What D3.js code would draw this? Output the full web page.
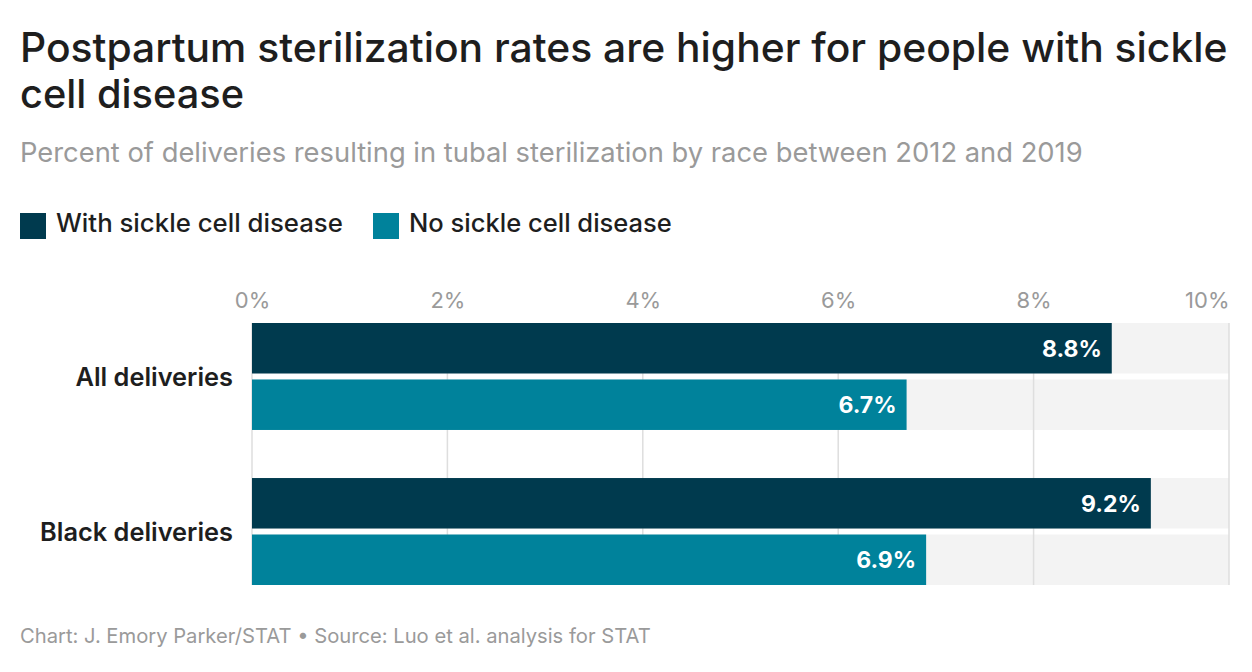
<!DOCTYPE html>
<html>
<head>
<meta charset="utf-8">
<script src="https://cdn.jsdelivr.net/npm/d3@7"></script>
<style>
  body { margin: 0; background: #fff; }
  svg { display: block; font-family: Inter, "Noto Sans", sans-serif; }
</style>
</head>
<body>
<div id="chart"></div>
<script>
var categories = ['All deliveries', 'Black deliveries'];
var seriesNames = ['With sickle cell disease', 'No sickle cell disease'];
var withSCD = [8.8, 9.2];
var noSCD = [6.7, 6.9];
var ticks = [0, 2, 4, 6, 8, 10];

var titleLines = ['Postpartum sterilization rates are higher for people with sickle', 'cell disease'];
var subtitle = 'Percent of deliveries resulting in tubal sterilization by race between 2012 and 2019';
var footer = 'Chart: J. Emory Parker/STAT \u2022 Source: Luo et al. analysis for STAT';

var width = 1252;
var height = 672;
var colors = ['#003a4e', '#00829b'];

var svg = d3.select('#chart').append('svg').attr('width', width).attr('height', height);

// shrink / grow a text node so it spans a given width
var fitText = function(sel, targetWidth){
	var w = sel.node().getComputedTextLength();
	var fs = parseFloat(sel.attr('font-size'));
	sel.attr('font-size', fs * targetWidth / w);
};

// Title and subtitle
svg.append('text').attr('x', 20).attr('y', 62).attr('font-size', 38).attr('font-weight', 500)
	.attr('fill', '#1e1e1e').text(titleLines[0]).call(fitText, 1208);
svg.append('text').attr('x', 20).attr('y', 108).attr('font-size', 38).attr('font-weight', 500)
	.attr('fill', '#1e1e1e').text(titleLines[1]).call(fitText, 224);
svg.append('text').attr('x', 20).attr('y', 162).attr('font-size', 25)
	.attr('fill', '#9a9a9a').text(subtitle).call(fitText, 1063);

// Legend
var legendX = [20, 373];
var legendW = [287, 263];
seriesNames.forEach(function(name, i){
	svg.append('rect').attr('x', legendX[i]).attr('y', 213).attr('width', 26).attr('height', 26).attr('fill', colors[i]);
	svg.append('text').attr('x', legendX[i] + 36).attr('y', 232).attr('font-size', 24).attr('font-weight', 500)
		.attr('fill', '#1e1e1e').text(name).call(fitText, legendW[i]);
});

// Scales
var x = d3.scaleLinear().domain([0, 10]).range([252, 1229]);
var y = d3.scaleBand().domain(categories).range([323, 585]).paddingInner(0.31);
var ySub = d3.scaleBand().domain([0, 1]).range([0, y.bandwidth()]).paddingInner(0.106);

var rows = [];
categories.forEach(function(c, i){
	rows.push({cat: c, s: 0, v: withSCD[i]});
	rows.push({cat: c, s: 1, v: noSCD[i]});
});

// Background bands
svg.selectAll('.band').data(rows).enter().append('rect')
	.attr('x', x(0)).attr('width', x(10) - x(0))
	.attr('y', function(d){ return y(d.cat) + ySub(d.s); })
	.attr('height', ySub.bandwidth())
	.attr('fill', '#f3f3f3');

// Gridlines
svg.selectAll('.grid').data(ticks).enter().append('line')
	.attr('x1', function(d){ return x(d); }).attr('x2', function(d){ return x(d); })
	.attr('y1', y.range()[0]).attr('y2', y.range()[1])
	.attr('stroke', '#dedede').attr('stroke-width', 1.5);

// Axis on top
var axis = svg.append('g').attr('transform', 'translate(0,' + 308 + ')')
	.call(d3.axisTop(x).tickValues(ticks).tickSize(0).tickPadding(0).tickFormat(function(d){ return d + '%'; }));
axis.select('.domain').remove();
axis.selectAll('text').attr('font-size', 22).attr('fill', '#9a9a9a').attr('font-family', 'Inter, "Noto Sans", sans-serif')
	.attr('text-anchor', function(d){ return d === 10 ? 'end' : 'middle'; });

// Bars
svg.selectAll('.bar').data(rows).enter().append('rect')
	.attr('x', x(0))
	.attr('width', function(d){ return x(d.v) - x(0); })
	.attr('y', function(d){ return y(d.cat) + ySub(d.s); })
	.attr('height', ySub.bandwidth())
	.attr('fill', function(d){ return colors[d.s]; });

// Value labels
svg.selectAll('.val').data(rows).enter().append('text')
	.attr('x', function(d){ return x(d.v) - 10; })
	.attr('y', function(d){ return y(d.cat) + ySub(d.s) + ySub.bandwidth() / 2; })
	.attr('dy', '0.36em').attr('text-anchor', 'end')
	.attr('font-size', 23).attr('font-weight', 700).attr('fill', '#fff')
	.text(function(d){ return d.v.toFixed(1) + '%'; });

// Category labels
var catLabels = svg.selectAll('.cat').data(categories).enter().append('text')
	.attr('x', 233)
	.attr('y', function(d){ return y(d) + y.bandwidth() / 2; })
	.attr('dy', '0.36em').attr('text-anchor', 'end')
	.attr('font-size', 24).attr('font-weight', 600).attr('fill', '#1e1e1e')
	.text(function(d){ return d; });
var longest = catLabels.filter(function(d){ return d === 'Black deliveries'; });
fitText(longest, 193);
catLabels.attr('font-size', longest.attr('font-size'));

// Footer
svg.append('text').attr('x', 20).attr('y', 643).attr('font-size', 18)
	.attr('fill', '#9a9a9a').text(footer).call(fitText, 631);
</script>
</body>
</html>
